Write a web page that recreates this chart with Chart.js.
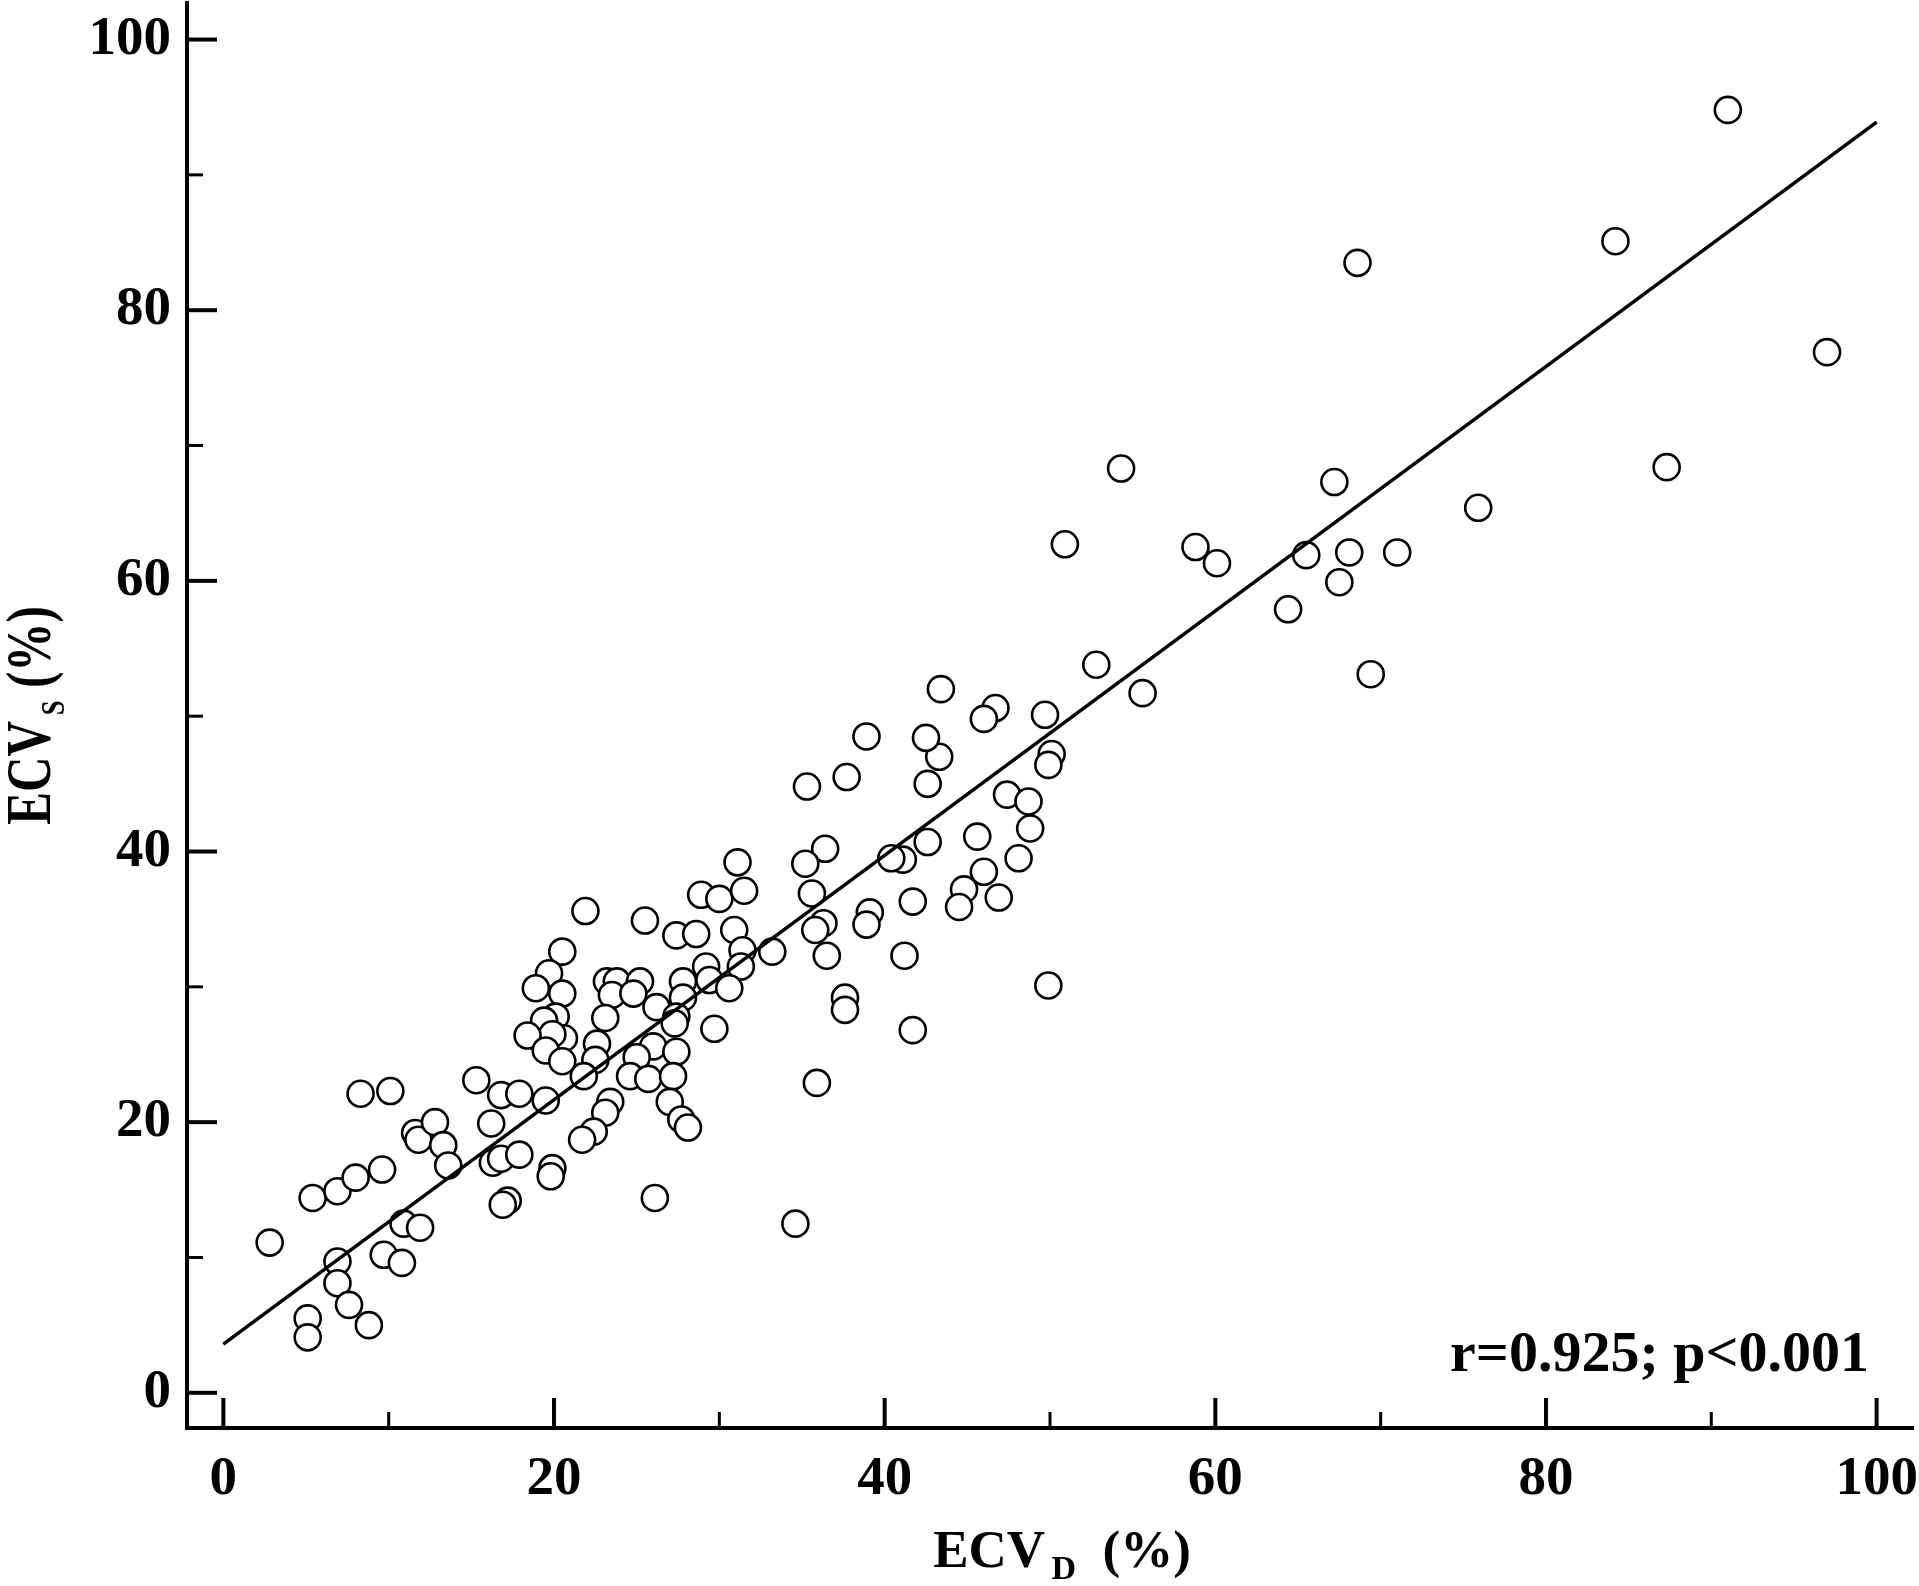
<!DOCTYPE html>
<html>
<head>
<meta charset="utf-8">
<title>ECV scatter</title>
<script src="https://cdn.jsdelivr.net/npm/chart.js@4.4.1/dist/chart.umd.min.js"></script>
<style>
  html, body { margin: 0; padding: 0; background: #fff; }
  #wrap { width: 1919px; height: 1586px; }
</style>
</head>
<body>
<div id="wrap"><canvas id="ecv-chart" width="1919" height="1586"></canvas></div>
<script>
// ─── DATA ──────────────────────────────────────────────────────────────────────
// ECV_D (x) and ECV_S (y)
const ecvD = [
  8.3, 10.1, 15.3, 16.8, 17.9, 19.5, 16.2, 11.6, 11.8, 12.8,
  13.3, 13.6, 16.3, 16.8, 17.9, 19.9, 19.8, 17.2, 16.9, 5.4,
  6.9, 8.0, 9.6, 2.8, 6.9, 6.9, 7.6, 8.8, 5.1, 5.1,
  10.9, 11.9, 9.7, 10.8, 21.9, 25.5, 28.9, 30.0, 31.5, 27.4,
  28.6, 30.9, 31.4, 31.3, 33.2, 20.5, 19.7, 18.9, 20.5, 23.2,
  23.8, 25.2, 23.5, 24.8, 23.1, 26.2, 27.8, 27.8, 27.4, 27.3,
  29.2, 29.4, 30.6, 29.7, 20.1, 19.4, 20.6, 19.9, 18.4, 19.5,
  20.5, 22.6, 22.5, 21.8, 26.0, 25.0, 27.4, 24.6, 25.7, 27.2,
  27.0, 27.7, 28.1, 23.4, 23.1, 22.4, 21.7, 35.3, 37.7, 43.3,
  42.6, 47.4, 31.1, 36.4, 35.2, 35.6, 41.1, 40.4, 42.6, 45.6,
  46.0, 44.8, 44.5, 46.9, 41.7, 36.3, 35.8, 39.1, 38.9, 36.5,
  41.2, 37.6, 37.6, 41.7, 52.8, 55.6, 43.4, 46.7, 46.0, 49.7,
  38.9, 42.5, 50.1, 49.9, 48.7, 48.8, 48.1, 49.9, 35.9, 34.6,
  26.1, 91.0, 84.2, 68.6, 97.0, 87.3, 54.3, 67.2, 75.9, 50.9,
  58.8, 60.1, 65.5, 68.1, 71.0, 67.5, 64.4, 69.4
]
const ecvS = [
  22.1, 22.3, 23.1, 22.0, 22.1, 21.6, 19.9, 19.2, 18.7, 20.0,
  18.3, 16.8, 17.0, 17.3, 17.6, 16.6, 16.0, 14.2, 13.9, 14.4,
  14.9, 15.9, 16.5, 11.1, 9.7, 8.1, 6.5, 5.0, 5.5, 4.1,
  12.5, 12.2, 10.2, 9.6, 35.6, 34.9, 36.8, 36.5, 37.1, 33.8,
  33.9, 34.2, 32.7, 31.5, 32.6, 32.6, 31.0, 29.9, 29.5, 30.4,
  30.4, 30.4, 29.4, 29.5, 27.7, 28.5, 30.4, 29.2, 27.8, 27.3,
  31.5, 30.5, 29.9, 26.9, 27.8, 27.5, 26.2, 26.5, 26.4, 25.3,
  24.5, 25.8, 24.6, 23.4, 25.6, 24.8, 25.2, 23.4, 23.2, 23.4,
  21.5, 20.2, 19.6, 21.5, 20.7, 19.3, 18.7, 44.8, 45.5, 47.0,
  45.0, 44.2, 39.2, 40.2, 39.1, 36.9, 39.4, 39.5, 40.7, 41.1,
  38.5, 37.2, 35.9, 36.6, 36.3, 34.7, 34.2, 35.5, 34.6, 32.3,
  32.3, 29.2, 28.3, 26.8, 53.8, 51.7, 52.0, 50.6, 49.8, 50.1,
  48.5, 48.4, 47.2, 46.4, 43.7, 41.7, 39.5, 30.1, 22.9, 12.5,
  14.4, 94.8, 85.1, 83.5, 76.9, 68.4, 68.3, 67.3, 65.4, 62.7,
  62.5, 61.3, 61.9, 62.1, 62.1, 59.9, 57.9, 53.1
]

// regression line end points
const fitX = [0, 100]
const fitY = [3.6, 93.9]

// tick labels
const xTicks     = [0, 20, 40, 60, 80, 100]
const yTicks     = [0, 20, 40, 60, 80, 100]
const minorTicks = [10, 30, 50, 70, 90]

const statText = "r=0.925; p<0.001"

const SERIF = "'Liberation Serif', 'Times New Roman', serif"


// ─── PLUGINS ───────────────────────────────────────────────────────────────────

// ticks pointing into the plot, major + minor
const inwardTicks = {
  id: "inwardTicks",
  afterDatasetsDraw(chart) {
    const { ctx, chartArea } = chart
    const xs = chart.scales.x
    const ys = chart.scales.y
    ctx.save()
    ctx.strokeStyle = "#000"
    ctx.lineCap = "butt"

    const drawSet = (values, len, width) => {
      ctx.lineWidth = width
      values.forEach(v => {
        const px = xs.getPixelForValue(v)
        ctx.beginPath()
        ctx.moveTo(px, chartArea.bottom)
        ctx.lineTo(px, chartArea.bottom - len)
        ctx.stroke()

        const py = ys.getPixelForValue(v)
        ctx.beginPath()
        ctx.moveTo(chartArea.left, py)
        ctx.lineTo(chartArea.left + len, py)
        ctx.stroke()
      })
    }
    drawSet(xTicks, 30, 4)
    drawSet(minorTicks, 16, 3)
    ctx.restore()
  }
}

// axis titles with subscripts, and the r / p note
function drawTitle(ctx, main, sub, tail, size, subSize) {
  ctx.font = `bold ${size}px ${SERIF}`
  const w1 = ctx.measureText(main).width
  ctx.font = `bold ${subSize}px ${SERIF}`
  const w2 = ctx.measureText(sub).width
  ctx.font = `bold ${size}px ${SERIF}`
  const w3 = ctx.measureText(tail).width
  const gap = size * 0.12
  const total = w1 + gap + w2 + w3
  let x = -total / 2
  ctx.textBaseline = "alphabetic"
  ctx.textAlign = "left"
  ctx.font = `bold ${size}px ${SERIF}`
  ctx.fillText(main, x, 0)
  x += w1 + gap
  ctx.font = `bold ${subSize}px ${SERIF}`
  ctx.fillText(sub, x, size * 0.22)
  x += w2
  ctx.font = `bold ${size}px ${SERIF}`
  ctx.fillText(tail, x, 0)
}

const titles = {
  id: "titles",
  afterDraw(chart) {
    const { ctx, chartArea } = chart
    const cx = (chartArea.left + chartArea.right) / 2
    const cy = (chartArea.top + chartArea.bottom) / 2
    ctx.save()
    ctx.fillStyle = "#000"

    // x title
    ctx.save()
    ctx.translate(cx + 12, chartArea.bottom + 139)
    drawTitle(ctx, "ECV", "D", "  (%)", 53, 34)
    ctx.restore()

    // y title (squeezed along its reading direction like the original)
    ctx.save()
    ctx.translate(chartArea.left - 137, cy)
    ctx.rotate(-Math.PI / 2)
    ctx.scale(0.78, 1)
    drawTitle(ctx, "ECV", "S", " (%)", 63, 34)
    ctx.restore()

    // statistics note
    ctx.font = `bold 58px ${SERIF}`
    ctx.textAlign = "right"
    ctx.textBaseline = "alphabetic"
    ctx.fillText(statText, chartArea.right - 44, chartArea.bottom - 57)
    ctx.restore()
  }
}


// ─── CHART SETUP ───────────────────────────────────────────────────────────────
const tickFont = { family: SERIF, size: 55, weight: "bold" }

new Chart(document.getElementById("ecv-chart").getContext("2d"), {
  data: {
    datasets: [
      {
        type: "line",
        label: "fit",
        data: fitX.map((x, i) => ({ x, y: fitY[i] })),
        borderColor: "#000",
        borderWidth: 3.5,
        pointRadius: 0,
        order: 0,
      },
      {
        type: "scatter",
        label: "ECV",
        data: ecvD.map((x, i) => ({ x, y: ecvS[i] })),
        pointRadius: 13,
        pointBorderWidth: 2.6,
        pointBorderColor: "#000",
        pointBackgroundColor: "#fff",
        order: 1,
      },
    ],
  },
  options: {
    responsive: false,
    animation: false,
    devicePixelRatio: 1,
    layout: { autoPadding: false, padding: { top: 3, right: 6, left: 0, bottom: 0 } },
    plugins: {
      legend:  { display: false },
      tooltip: { enabled: false },
    },
    scales: {
      x: {
        type: "linear",
        min: -2.2,
        max: 102.2,
        grid: { display: false, drawTicks: false },
        border: { display: true, color: "#000", width: 4 },
        ticks: { font: tickFont, color: "#000", padding: 19, maxRotation: 0 },
        afterBuildTicks: s => { s.ticks = xTicks.map(v => ({ value: v })) },
        afterFit: s => { s.height = 158; s.paddingLeft = 0; s.paddingRight = 0 },
      },
      y: {
        type: "linear",
        min: -2.6,
        max: 102.7,
        grid: { display: false, drawTicks: false },
        border: { display: true, color: "#000", width: 4 },
        ticks: { font: tickFont, color: "#000", padding: 16 },
        afterBuildTicks: s => { s.ticks = yTicks.map(v => ({ value: v })) },
        afterFit: s => { s.width = 187; s.paddingTop = 0; s.paddingBottom = 0 },
      },
    },
  },
  plugins: [inwardTicks, titles],
})
</script>
</body>
</html>
